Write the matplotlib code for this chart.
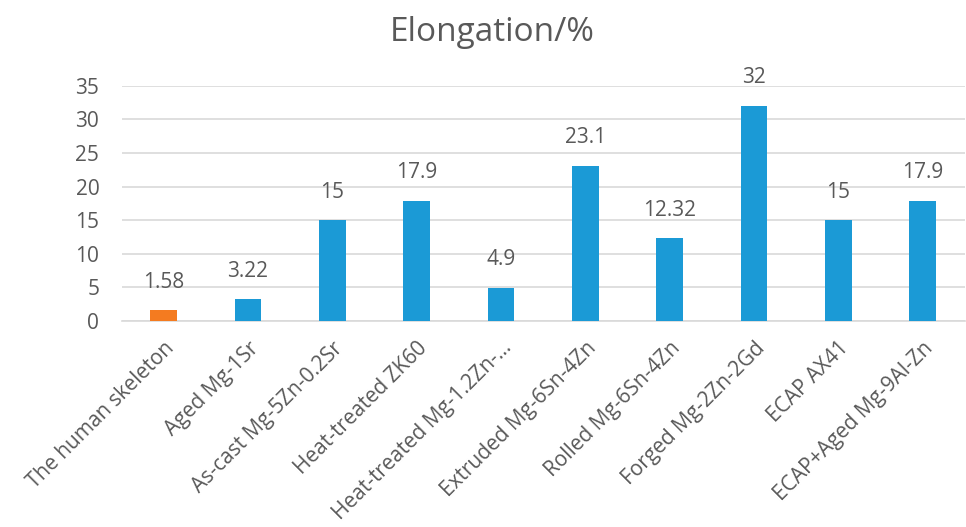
import matplotlib
matplotlib.use("Agg")
import matplotlib.pyplot as plt

# Elongation of skeleton vs. magnesium alloys
materials = ["The human skeleton", "Aged Mg-1Sr", "As-cast Mg-5Zn-0.2Sr",
             "Heat-treated ZK60", "Heat-treated Mg-1.2Zn-...", "Extruded Mg-6Sn-4Zn",
             "Rolled Mg-6Sn-4Zn", "Forged Mg-2Zn-2Gd", "ECAP AX41", "ECAP+Aged Mg-9Al-Zn"]
elongation = [1.58, 3.22, 15, 17.9, 4.9, 23.1, 12.32, 32, 15, 17.9]
value_labels = ["1.58", "3.22", "15", "17.9", "4.9", "23.1", "12.32", "32", "15", "17.9"]

plt.rcParams['font.family'] = ['Open Sans', 'DejaVu Sans']
text_col = '#595959'

fig = plt.figure(figsize=(9.66, 5.27), dpi=100)
ax = fig.add_axes([0.1258, 0.391, 0.873, 0.446])

colors = ['#F47B20'] + ['#1B9AD6'] * (len(materials) - 1)
x = range(len(materials))
ax.bar(x, elongation, width=0.317, color=colors, zorder=3)

for i, (v, lab) in enumerate(zip(elongation, value_labels)):
    ax.text(i, v + 4.2, lab, ha='center', va='center', fontsize=15, color=text_col)

ax.set_xlim(-0.5, len(materials) - 0.5)
ax.set_ylim(0, 35)
ax.set_yticks(range(0, 36, 5))
ax.yaxis.grid(True, color='#D9D9D9', linewidth=1.2, zorder=0)
ax.set_xticks(list(x))
ax.set_xticklabels(materials, rotation=45, ha='right', rotation_mode='anchor',
                   fontsize=15, color=text_col)
ax.tick_params(axis='y', labelsize=15, labelcolor=text_col, length=0, pad=16)
ax.tick_params(axis='x', length=0, pad=12)
for s in ['top', 'right', 'left']:
    ax.spines[s].set_visible(False)
ax.spines['bottom'].set_color('#D9D9D9')
ax.spines['bottom'].set_linewidth(1.2)

fig.text(0.51, 0.938, "Elongation/%", ha='center', va='center', fontsize=24, color=text_col)

fig.savefig("out.png", dpi=100)
